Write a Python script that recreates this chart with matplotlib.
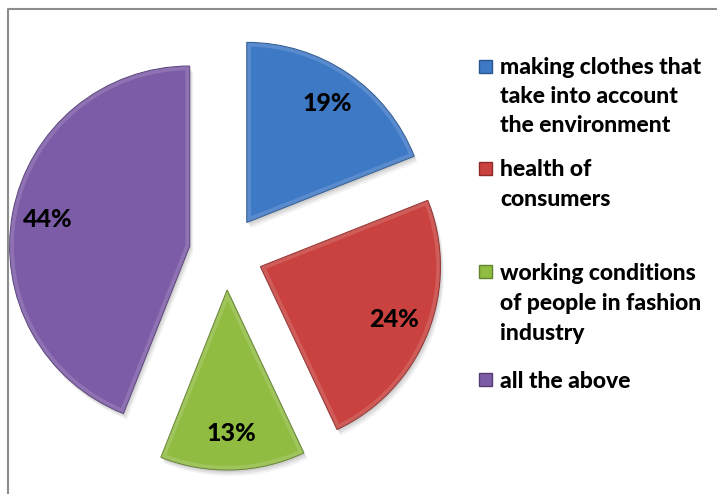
import matplotlib.pyplot as plt
from matplotlib.patches import Wedge

# survey answers, clockwise from 12 o'clock
shares = [19, 24, 13, 44]
labels = [
    ['making clothes that', 'take into account', 'the environment'],
    ['health of', 'consumers'],
    ['working conditions', 'of people in fashion', 'industry'],
    ['all the above'],
]
colors = ['#3e79c6', '#c9423f', '#90bc42', '#7d5ca7']
edges = ['#2a5690', '#8e2b29', '#62832b', '#553d78']

W, H = 717, 494
fig = plt.figure(figsize=(W / 100, H / 100), dpi=100)
ax = fig.add_axes([0, 0, 1, 1])

center = (226, H - 253)
R = 180
gap = 37

# soft drop shadow: a few offset copies with low alpha
for off, a in [(2, 0.08), (4, 0.07), (6, 0.05)]:
    ax.pie(shares, radius=R, center=(center[0] + off * 0.6, center[1] - off),
           explode=[gap] * 4, startangle=90, counterclock=False,
           colors=['#000000'] * 4, wedgeprops=dict(alpha=a, lw=0))

wedges, _, pcts = ax.pie(
    shares, radius=R, center=center, explode=[gap] * 4, startangle=90,
    counterclock=False, colors=colors, autopct=lambda p: f'{p:.0f}%',
    pctdistance=0.8,
    wedgeprops=dict(lw=0.8),
    textprops=dict(fontsize=18, fontweight=900, family='Lato', color='black'),
)

for w, ec in zip(wedges, edges):
    w.set_edgecolor(ec)
    # bevel highlight just inside the outline
    hl = Wedge(w.center, w.r, w.theta1, w.theta2, facecolor='none',
               edgecolor='white', lw=6, alpha=0.14)
    ax.add_patch(hl)
    hl.set_clip_path(w)

# legend drawn on the right
line_y = [[68, 97, 126], [170, 199], [273, 303, 333], [381]]
for lines, ys, c, ec in zip(labels, line_y, colors, edges):
    sq = 13
    ax.add_patch(plt.Rectangle((479, H - ys[0] - 5), sq, sq, facecolor=c,
                               edgecolor=ec, lw=1))
    for txt, y in zip(lines, ys):
        ax.text(500, H - y, txt, fontsize=16.5, fontweight=900,
                family='Lato', va='center', ha='left', color='black')

# chart area border (continues past the right and bottom edges)
ax.plot([8, 8, W + 5], [-5, H - 9, H - 9], color='#8c8c8c', lw=1.5,
        clip_on=False)

ax.set_xlim(0, W)
ax.set_ylim(0, H)
ax.set_aspect('auto')
ax.axis('off')

fig.savefig('out.png', dpi=100)
